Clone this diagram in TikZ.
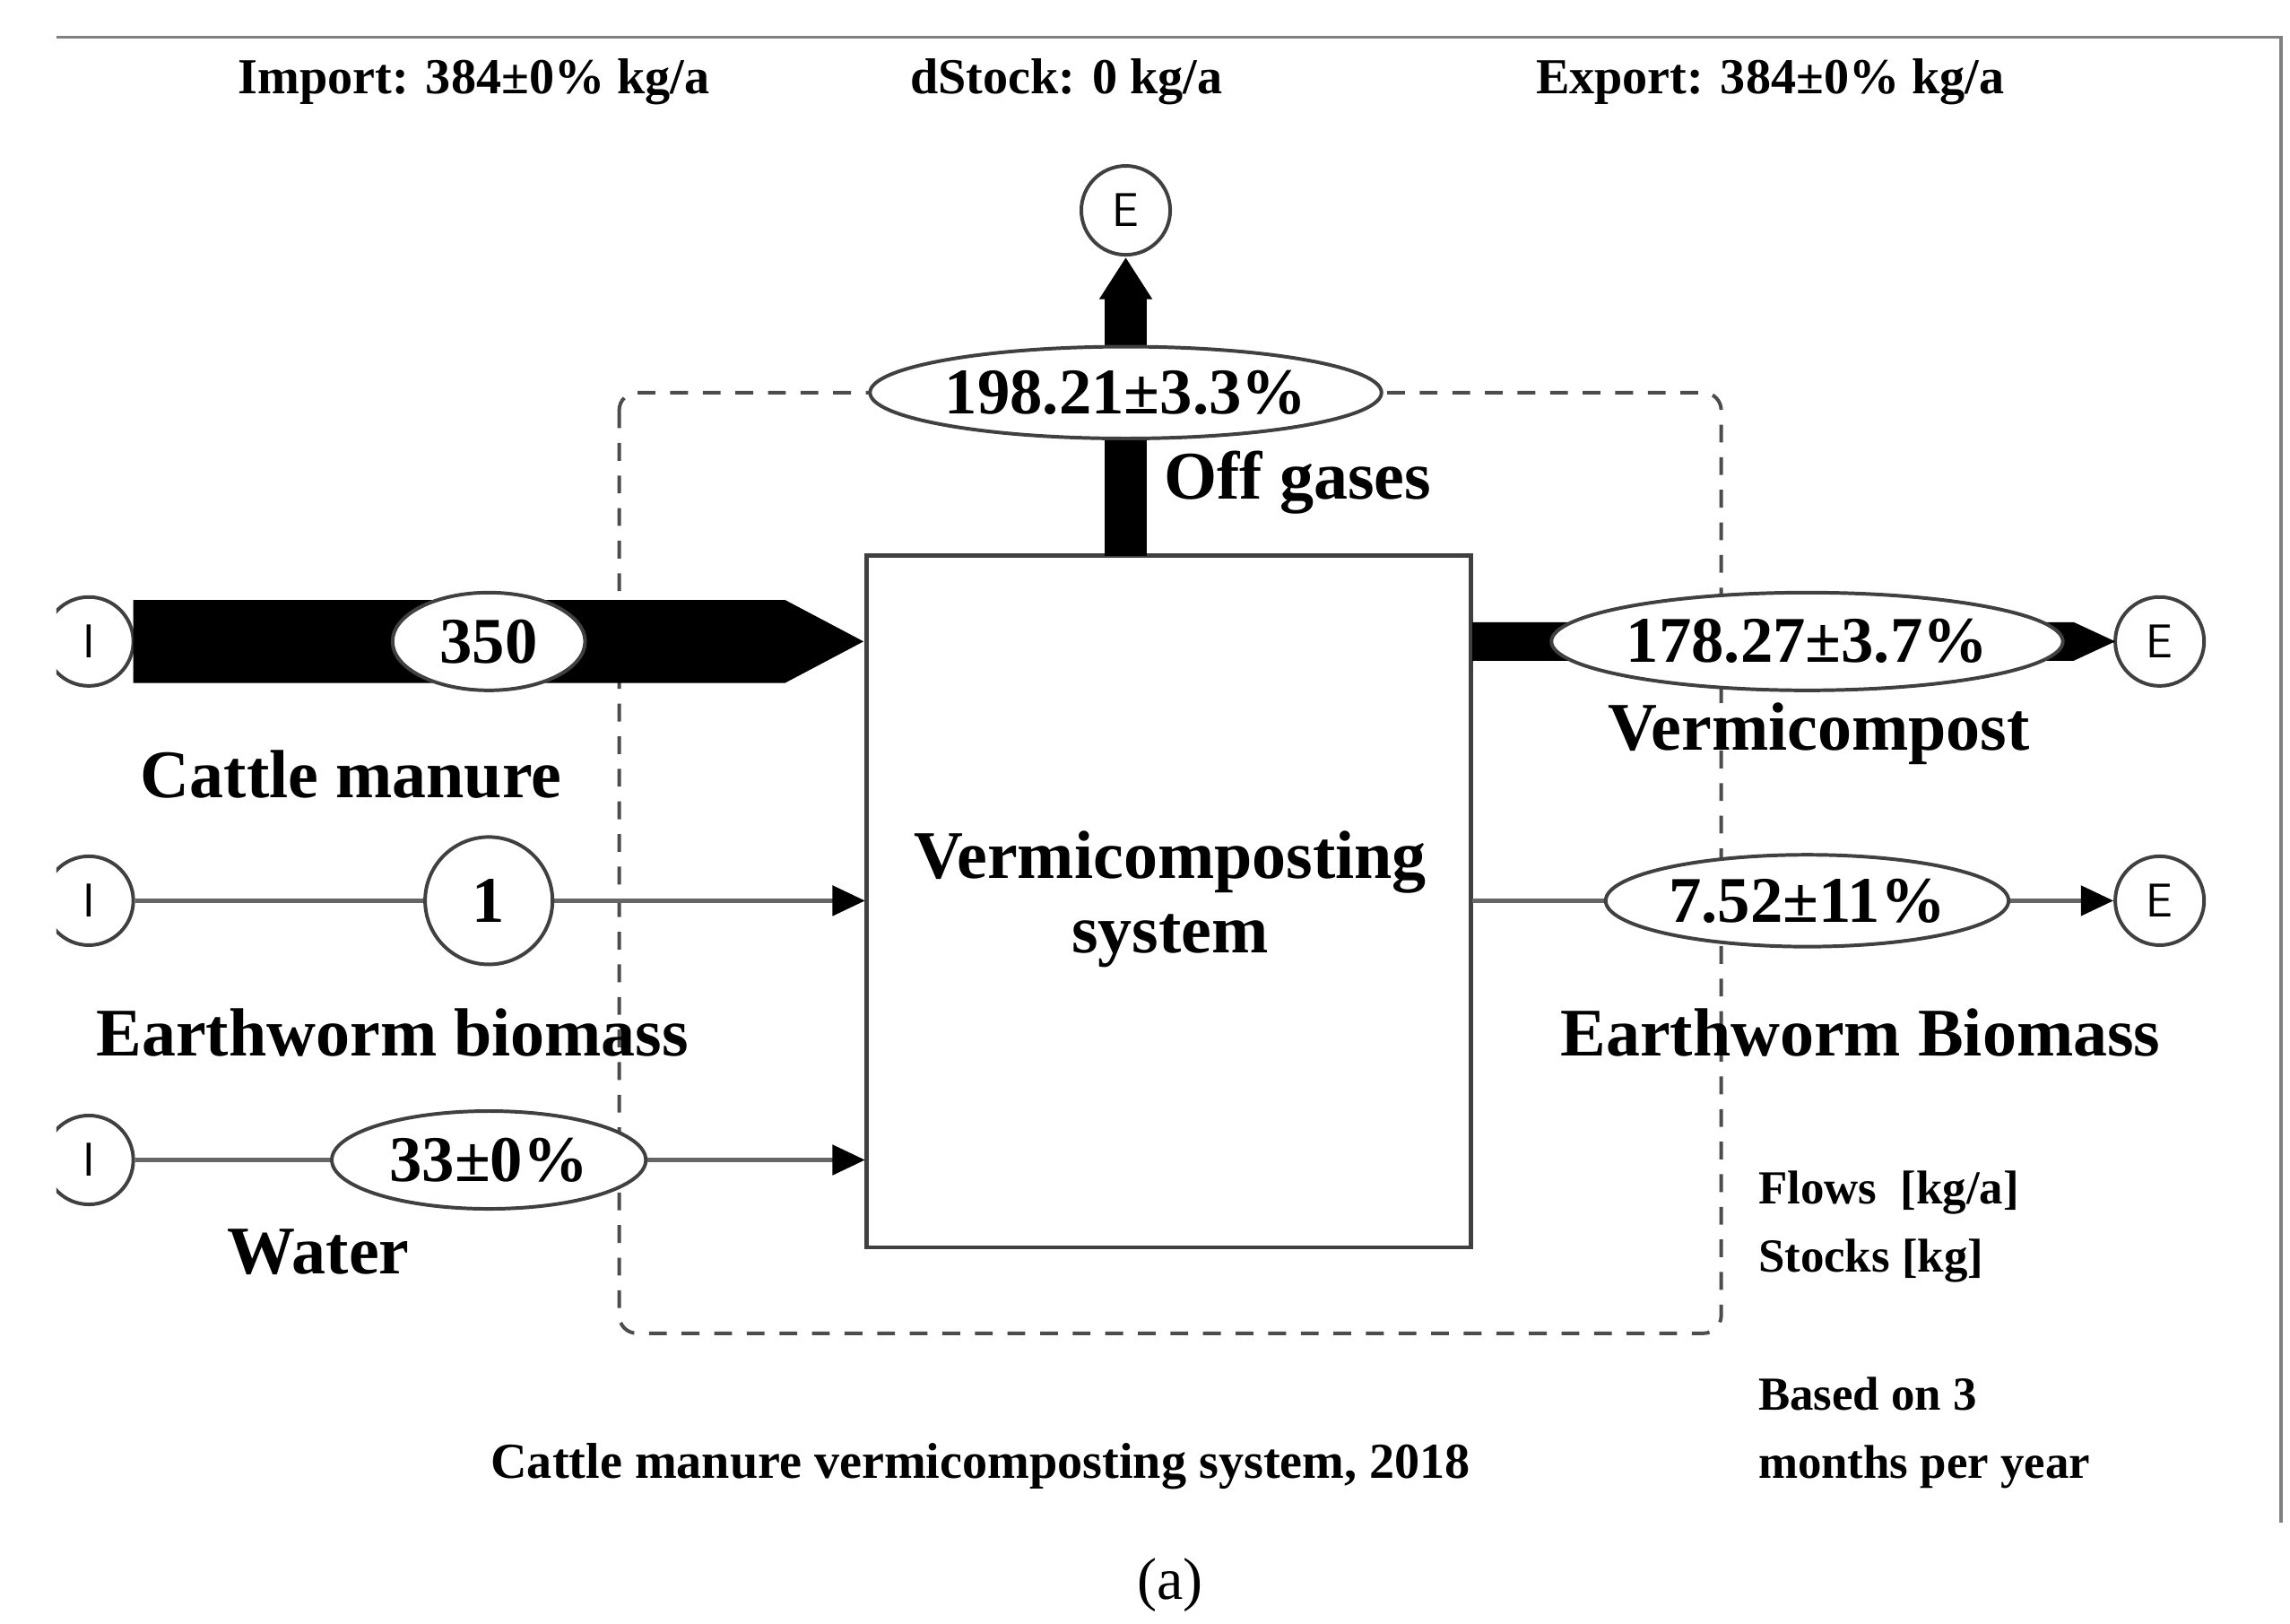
\documentclass[tikz,border=0pt]{standalone}
\usepackage{fontspec}
\setmainfont{Liberation Serif}
\usetikzlibrary{arrows.meta,shapes.geometric}
\begin{document}
\begin{tikzpicture}[x=0.5pt,y=-0.5pt,
  lbl/.style={font=\fontsize{23}{25}\selectfont\bfseries},
  hdr/.style={font=\fontsize{17}{19}\selectfont\bfseries},
  sml/.style={font=\fontsize{16}{23}\selectfont\bfseries,align=left,anchor=west},
  val/.style={ellipse,draw=black!75,line width=1.2pt,fill=white,inner sep=0pt,font=\fontsize{22}{24}\selectfont\bfseries},
  term/.style={circle,draw=black!75,line width=1.2pt,fill=white,minimum size=30pt,inner sep=0pt,font=\fontsize{16}{18}\selectfont\sffamily},
  thin/.style={draw=black!60,line width=1.5pt},
  tip/.style={-{Triangle[length=11pt,width=10pt,fill=black,color=black]}}]
\useasboundingbox (0,0) rectangle (1546,1096);
\fill[white] (0,0) rectangle (1546,1096);
% frame lines
\draw[black!50,line width=1pt] (38,25) -- (1540,25) -- (1540,1028);
% headers
\node[hdr] at (320,55) {Import: 384±0\% kg/a};
\node[hdr] at (720,55) {dStock: 0 kg/a};
\node[hdr] at (1195,55) {Export: 384±0\% kg/a};
% dashed system boundary
\draw[black!70,line width=1.2pt,dash pattern=on 6pt off 5pt,rounded corners=6pt] (418,265) rectangle (1162,900);
% process box
\node[draw=black!75,line width=1.5pt,fill=white,minimum width=204pt,minimum height=233.5pt,inner sep=0pt] (box) at (789,608.5) {};
\node[lbl,align=center] (boxlbl) at (790,607) {Vermicomposting\\system};
% off gases
\node[term] (eTop) at (760,142) {E};
\fill[black] (746,375) rectangle (774,200);
\fill[black] (742,202) -- (760,174) -- (778,202) -- cycle;
\node[val,minimum width=170pt,minimum height=31pt] (vOff) at (760,265) {198.21±3.3\%};
\node[lbl] (lOff) at (876,326) {Off gases};
% inputs (left terminals clipped at frame edge)
\begin{scope}
\clip (38,0) rectangle (200,1096);
\node[term] (i1) at (60,433) {I};
\node[term] (i2) at (60,608) {I};
\node[term] (i3) at (60,783) {I};
\end{scope}
% cattle manure
\fill[black] (90,405) -- (530,405) -- (583,433) -- (530,461) -- (90,461) -- cycle;
\node[val,minimum width=65pt,minimum height=33pt] (v1) at (330,433) {350};
\node[lbl] (l1) at (237,523) {Cattle manure};
% earthworm in
\draw[thin,tip] (i2) -- (584,608);
\node[val,circle,minimum size=43pt] (v2) at (330,608) {1};
\node[lbl] (l2) at (265,697) {Earthworm biomass};
% water
\draw[thin,tip] (i3) -- (584,783);
\node[val,minimum width=106pt,minimum height=33pt] (v3) at (330,783) {33±0\%};
\node[lbl] (l3) at (215,845) {Water};
% vermicompost out
\node[term] (e1) at (1458,433) {E};
\fill[black] (994,420) -- (1400,420) -- (1428,433) -- (1400,446) -- (994,446) -- cycle;
\node[val,minimum width=166pt,minimum height=33pt] (v4) at (1220,433) {178.27±3.7\%};
\node[lbl] (l4) at (1228,495) {Vermicompost};
% earthworm out
\node[term] (e2) at (1458,608) {E};
\draw[thin,tip] (994,608) -- (e2);
\node[val,minimum width=136pt,minimum height=31pt] (v5) at (1220,608) {7.52±11\%};
\node[lbl] (l5) at (1256,697) {Earthworm Biomass};
% legend
\node[sml] at (1180,828) {Flows\ \ [kg/a]\\Stocks [kg]};
\node[sml] at (1180,967) {Based on 3\\months per year};
\node[hdr] at (662,990) {Cattle manure vermicomposting system, 2018};
\node[font=\fontsize{20}{22}\selectfont] at (790,1070) {(a)};
\end{tikzpicture}
\end{document}
